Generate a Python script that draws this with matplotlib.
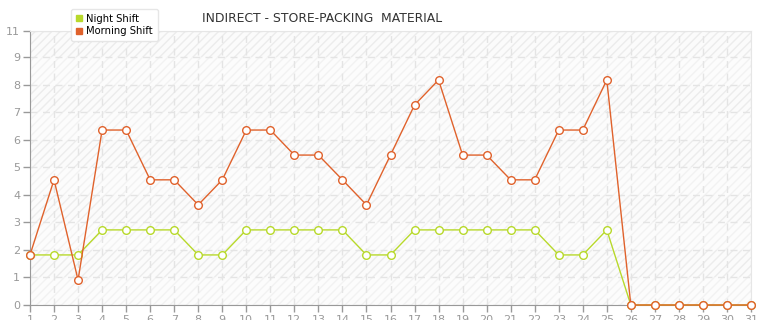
import matplotlib.pyplot as plt
from matplotlib.lines import Line2D

# Data
days = list(range(1, 32))
night_shift = [1.82, 1.82, 1.82, 2.73, 2.73, 2.73, 2.73, 1.82, 1.82, 2.73,
               2.73, 2.73, 2.73, 2.73, 1.82, 1.82, 2.73, 2.73, 2.73, 2.73,
               2.73, 2.73, 1.82, 1.82, 2.73, 0, 0, 0, 0, 0, 0]
morning_shift = [1.82, 4.55, 0.91, 6.36, 6.36, 4.55, 4.55, 3.64, 4.55, 6.36,
                 6.36, 5.45, 5.45, 4.55, 3.64, 5.45, 7.27, 8.18, 5.45, 5.45,
                 4.55, 4.55, 6.36, 6.36, 8.18, 0, 0, 0, 0, 0, 0]
y_max = 9.96
y_ticks = [0, 1, 2, 3, 4, 5, 6, 7, 8, 9, y_max]
y_labels = ['0', '1', '2', '3', '4', '5', '6', '7', '8', '9', '11']
title = 'INDIRECT - STORE-PACKING  MATERIAL'

night_color = '#b8d92b'
morning_color = '#e0622c'
gray = '#999999'

fig = plt.figure(figsize=(7.65, 3.2), dpi=100)
ax = fig.add_axes([30 / 765, 15 / 320, 721 / 765, 274 / 320])

ax.set_xlim(1, 31)
ax.set_ylim(0, y_max)

# alternating hatched bands
for y0 in range(0, 10):
    top = min(y0 + 1, y_max)
    if y0 % 2 == 1:
        ax.axhspan(y0, top, facecolor='#fbfbfb', edgecolor='#ececec',
                   hatch='////', linewidth=0, zorder=0)
    else:
        ax.axhspan(y0, top, facecolor='#fcfcfc', edgecolor='#f2f2f2',
                   hatch='////', linewidth=0, zorder=0)

ax.grid(True, color='#e4e4e4', linestyle=(0, (5, 4)), linewidth=1, zorder=1)

ax.plot(days, night_shift, color=night_color, linewidth=1, marker='o',
        markersize=5.5, markerfacecolor='white', markeredgecolor=night_color,
        markeredgewidth=1, zorder=3, clip_on=False)
ax.plot(days, morning_shift, color=morning_color, linewidth=1, marker='o',
        markersize=5.5, markerfacecolor='white', markeredgecolor=morning_color,
        markeredgewidth=1, zorder=4, clip_on=False)

ax.set_xticks(days)
ax.set_yticks(y_ticks)
ax.set_yticklabels(y_labels)
ax.tick_params(colors=gray, labelcolor=gray, labelsize=8, length=5,
               width=1, pad=2)
for side in ['left', 'bottom']:
    ax.spines[side].set_color(gray)
for side in ['right', 'top']:
    ax.spines[side].set_color('#e6e6e6')

fig.text(322 / 765, 1 - 18 / 320, title, ha='center', va='center',
         fontsize=8.9, color='#333333')

handles = [
    Line2D([], [], color=night_color, marker='s', linestyle='none',
           markersize=4),
    Line2D([], [], color=morning_color, marker='s', linestyle='none',
           markersize=4),
]
leg = fig.legend(handles, ['Night Shift', 'Morning Shift'],
                 loc='upper left', bbox_to_anchor=(66 / 765, 1 - 4 / 320),
                 fontsize=7.2, frameon=True, handlelength=0.6,
                 handletextpad=0.5, borderpad=0.45, labelspacing=0.25,
                 fancybox=True, framealpha=1, edgecolor='#e6e6e6')
leg.set_zorder(10)

fig.savefig('out.png', dpi=100)
